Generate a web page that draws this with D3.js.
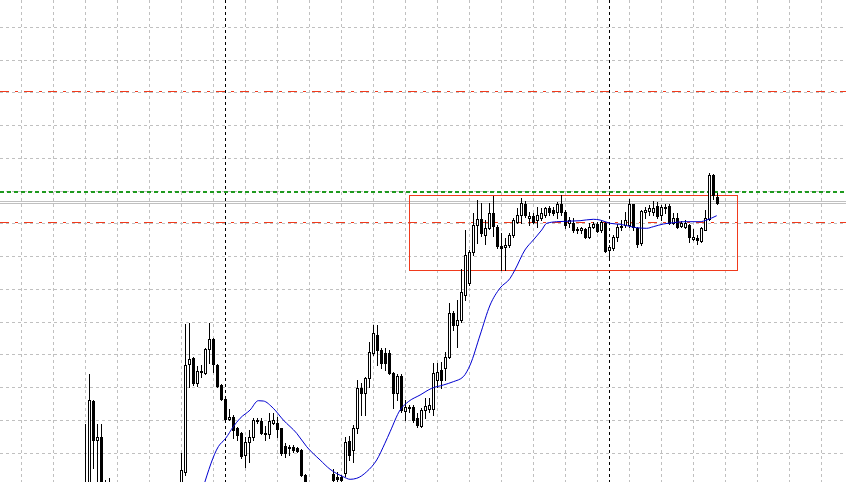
<!DOCTYPE html>
<html><head><meta charset="utf-8">
<script src="https://cdn.jsdelivr.net/npm/d3@7"></script>
<style>html,body{margin:0;padding:0;background:#fff;overflow:hidden}</style>
</head><body><div id="chart"></div>
<script>
// ---- data (prices in chart points) ----
const barIndex = [0,1,2,3,4,5,6,
 24,25,26,27,28,29,30,31,32,33,34,35,36,37,38,39,40,41,42,43,44,45,46,47,48,49,50,51,52,53,54,55,
 62,63,64,65,66,67,68,69,70,71,72,73,74,75,76,77,78,79,80,81,82,83,84,85,86,87,88,89,90,91,92,93,94,95,96,97,98,99,
 100,101,102,103,104,105,106,107,108,109,110,111,112,113,114,115,116,117,118,119,120,121,122,123,124,125,126,127,128,129,
 130,131,132,133,134,135,136,137,138,139,140,141,142,143,144,145,146,147,148,149,150,151,152,153,154,155,156,157,158];
const openP = [-6,-13,81,42,45,-3,-3,
 -8,10,118,124,99,110,109,133,143,117,97,83,63,65,54,49,27,40,45,61,61,48,48,59,59,54,36,35,35,34,32,7,
 8,5,5,9,41,32,54,94,89,104,129,147,132,129,129,109,89,106,71,75,75,64,56,72,73,73,102,112,114,125,169,157,162,187,199,230,257,263,
 247,254,269,255,236,235,237,247,260,267,278,264,266,262,264,267,274,272,270,278,270,259,259,253,252,253,245,255,258,252,
 259,232,234,245,255,257,257,278,254,239,270,271,270,276,267,275,276,259,264,256,255,257,243,244,241,252,263,307,285];
const highP = [58,108,82,58,58,2,4,
 29,158,159,125,116,117,134,159,144,118,98,84,73,67,55,50,45,52,64,64,64,56,69,69,65,54,39,37,37,35,33,8,
 13,10,7,45,46,57,102,99,105,140,157,157,134,134,132,110,108,108,82,77,77,69,74,84,84,119,119,120,130,179,171,182,213,252,232,269,282,279,
 262,279,286,257,249,244,249,264,274,284,281,270,269,275,274,275,276,275,280,287,272,265,264,255,255,254,259,260,260,262,
 260,237,247,258,262,270,283,278,255,272,275,277,281,280,277,278,278,269,269,261,262,258,253,247,255,272,309,308,289];
const lowP = [-23,-18,14,-8,-13,-13,-13,
 -13,7,95,97,96,105,108,119,110,95,82,62,62,44,42,24,15,20,42,59,48,42,44,58,45,27,25,27,30,30,6,-13,
 -6,-2,-2,6,22,20,49,67,67,95,127,117,114,112,108,74,82,70,62,70,60,55,55,64,70,67,95,94,102,124,152,135,160,182,197,227,239,246,
 238,253,246,234,212,212,235,245,259,259,265,257,259,255,262,265,267,267,264,267,254,255,250,249,249,244,244,254.5,250,250,
 230,225,232,241,252,255,255,252,235,237,264,267,267,264,262,269,258.5,258.5,254,255,254,240,242.5,238,240,251.5,262,283,278];
const closeP = [-13,82,42,45,-8,-8,-6,
 12,117,123,99,111,111,133,143,118,96,83,63,65,52,47,26,40,45,62,62,49,49,61,62,53,29,29,34,32,31,7,-8,
 2,3,2,40,27,54,94,89,104,130,149,132,119,119,109,89,106,72,75,74,62,57,72,76,77,109,110,102,125,169,157,162,190,227,230,257,263,249,
 254,269,256,236,234,237,247,262,267,279,267,266,260,267,269,274,270,269,278,270,257,262,252,252.5,254,245,255,258,251,260,
 231,235,245,255,256,262,278,255,238,271,272,274,274,266,275,274.5,259,264,255,259,259,245,245,242,254,264,307,287,279];

// moving average (bar position, value)
const maBar = [29.5,33.25,35.1,37,38.7,41.2,43.25,44.5,47,49.5,52.85,55.35,58.7,61.2,64.5,66.2,67.85,70.35,72.85,74.9,76.2,78.7,80.75,83.7,86.6,89.5,92,94.5,96.2,98.7,101.2,103.7,106.2,107.4,109.9,112,114.1,115.35,117.85,123.7,127,128.7,131.2,133.7,137.85,140.35,142,144.5,147,149.5,153.7,155.35,157.85];
const maVal = [-5,35.3,43.7,55.3,63.7,72,81.3,81,73.7,62,48.7,35.3,22,12.7,5.3,2.7,3.7,10.3,22,38.7,50.3,72,80.3,87,93.7,97,100.3,105.3,117,147,177,194,203.7,212,232,242,252,258.7,260.3,261.3,262.7,262,258.7,257.7,254.3,253.7,255.3,258,259.3,260.3,260.3,262,266.3];

// horizontal grid price levels
const gridPrices = [454.7,421.9,389.2,356.4,323.7,290.9,258.2,225.4,192.7,159.9,127.2,94.4,61.7,28.9];
// vertical markers (bar positions)
const vLines = [35,131];
// horizontal objects
const levelGreen = 290.5;
const levelSilver = [280.7,278.7];
const levelRed = [390.5,259.7];
// rectangle [bar from, bar to, price high, price low]
const rectBars = [81.05,163.05];
const rectPrices = [287,211.5];

const W = 846, H = 482;
const x = d3.scaleLinear().domain([0,190]).range([85.3, 85.3+4*190]);
const y = d3.scaleLinear().domain([0,482]).range([482,0]);

const svg = d3.select("#chart").append("svg").attr("width",W).attr("height",H)
  .style("display","block");
svg.append("rect").attr("width",W).attr("height",H).attr("fill","#fff");

// grid
const gridX = d3.range(-16, 192, 8);
svg.append("g").selectAll("line").data(gridX).join("line")
  .attr("x1",d=>Math.floor(x(d))+0.5).attr("x2",d=>Math.floor(x(d))+0.5)
  .attr("y1",0).attr("y2",H)
  .attr("stroke","#c0c0c0").attr("stroke-dasharray","3,3");
svg.append("g").selectAll("line").data(gridPrices).join("line")
  .attr("x1",0).attr("x2",W)
  .attr("y1",d=>Math.floor(y(d))+0.5).attr("y2",d=>Math.floor(y(d))+0.5)
  .attr("stroke","#c0c0c0").attr("stroke-dasharray","3,3");

// vertical black dotted
svg.append("g").selectAll("line").data(vLines).join("line")
  .attr("x1",d=>Math.floor(x(d))+0.5).attr("x2",d=>Math.floor(x(d))+0.5)
  .attr("y1",0).attr("y2",H)
  .attr("stroke","#000").attr("stroke-dasharray","3,3");

// levels
const hl = (p, color, dash, w) => svg.append("line")
  .attr("x1",0).attr("x2",W)
  .attr("y1",w===2?Math.round(y(p)):Math.floor(y(p))+0.5)
  .attr("y2",w===2?Math.round(y(p)):Math.floor(y(p))+0.5)
  .attr("stroke",color).attr("stroke-width",w||1).attr("stroke-dasharray",dash);
hl(levelGreen,"#1f9a1f","4,3",2);
levelSilver.forEach(p=>hl(p,"#c0c0c0",null));
levelRed.forEach(p=>hl(p,"#f03a1c","9,6,3,6"));

// rectangle
svg.append("rect")
  .attr("x",Math.floor(x(rectBars[0]))+0.5)
  .attr("y",Math.floor(y(rectPrices[0]))+0.5)
  .attr("width",Math.floor(x(rectBars[1]))-Math.floor(x(rectBars[0])))
  .attr("height",Math.floor(y(rectPrices[1]))-Math.floor(y(rectPrices[0])))
  .attr("fill","none").attr("stroke","#f03a1c");

// candles
const candles = barIndex.map((b,k)=>({b, o:openP[k], h:highP[k], l:lowP[k], c:closeP[k]}));
const g = svg.append("g");
const col = d=>Math.floor(x(d.b));
g.selectAll("line.w").data(candles).join("line").attr("class","w")
  .attr("x1",d=>col(d)+0.5).attr("x2",d=>col(d)+0.5)
  .attr("y1",d=>Math.round(y(d.h))).attr("y2",d=>Math.round(y(d.l))+1)
  .attr("stroke","#000");
g.selectAll("rect.b").data(candles).join("rect").attr("class","b")
  .attr("x",d=>col(d)-0.5)
  .attr("y",d=>Math.round(y(Math.max(d.o,d.c)))+0.5)
  .attr("width",2)
  .attr("height",d=>Math.max(0, Math.round(y(Math.min(d.o,d.c)))-Math.round(y(Math.max(d.o,d.c)))))
  .attr("fill",d=>d.c>=d.o?"#fff":"#000")
  .attr("stroke","#000");

// moving average
const maPts = maBar.map((b,k)=>[b,maVal[k]]);
svg.append("path").datum(maPts)
  .attr("d", d3.line().x(d=>x(d[0])).y(d=>y(d[1])).curve(d3.curveMonotoneX))
  .attr("fill","none").attr("stroke","#0000d0").attr("stroke-width",1);
</script></body></html>
